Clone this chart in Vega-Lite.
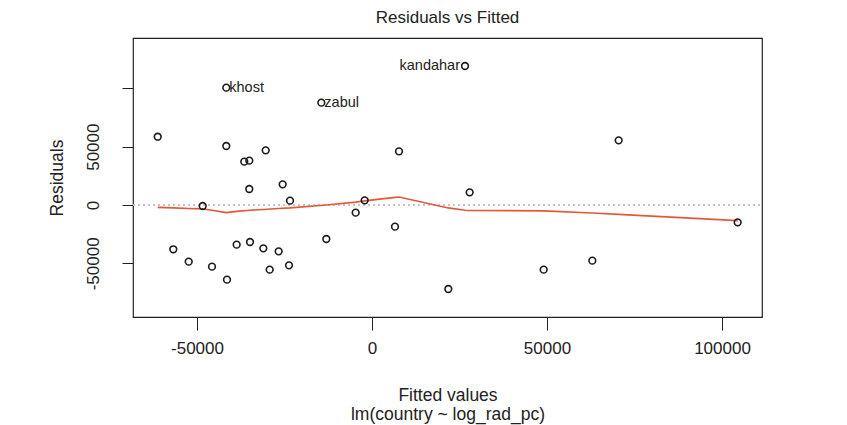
{
  "$schema": "https://vega.github.io/schema/vega-lite/v6.json",
  "width": 629,
  "height": 279,
  "autosize": {"type": "none"},
  "padding": {"left": 133, "top": 38, "right": 85, "bottom": 108},
  "background": "white",
  "title": {
    "text": "Residuals vs Fitted",
    "anchor": "middle",
    "frame": "group",
    "font": "Liberation Sans",
    "fontSize": 17,
    "fontWeight": "normal",
    "color": "#222222",
    "baseline": "alphabetic",
    "offset": -2
  },
  "config": {
    "view": {"stroke": "#222222", "strokeWidth": 1.2},
    "axis": {
      "labelFont": "Liberation Sans",
      "titleFont": "Liberation Sans",
      "labelFontSize": 17,
      "titleFontSize": 17.5,
      "labelColor": "#222222",
      "titleColor": "#222222",
      "titleFontWeight": "normal",
      "tickColor": "#222222",
      "grid": false,
      "domain": false
    }
  },
  "datasets": {
    "points": [
      {"fitted": -61229, "resid": 58543, "label": ""},
      {"fitted": -48371, "resid": -857, "label": ""},
      {"fitted": -56771, "resid": -37971, "label": ""},
      {"fitted": -52371, "resid": -48571, "label": ""},
      {"fitted": -45714, "resid": -52857, "label": ""},
      {"fitted": -41629, "resid": 50571, "label": ""},
      {"fitted": -41429, "resid": -64000, "label": ""},
      {"fitted": -41629, "resid": 100571, "label": "khost"},
      {"fitted": -36486, "resid": 37143, "label": ""},
      {"fitted": -35057, "resid": 38000, "label": ""},
      {"fitted": -35057, "resid": 13714, "label": ""},
      {"fitted": -38667, "resid": -34000, "label": ""},
      {"fitted": -34857, "resid": -31714, "label": ""},
      {"fitted": -30371, "resid": 46857, "label": ""},
      {"fitted": -31048, "resid": -37143, "label": ""},
      {"fitted": -29238, "resid": -55429, "label": ""},
      {"fitted": -26667, "resid": -39714, "label": ""},
      {"fitted": -25524, "resid": 17714, "label": ""},
      {"fitted": -23429, "resid": 3714, "label": ""},
      {"fitted": -23714, "resid": -51714, "label": ""},
      {"fitted": -13048, "resid": -29143, "label": ""},
      {"fitted": -14476, "resid": 87714, "label": "zabul"},
      {"fitted": -4667, "resid": -6571, "label": ""},
      {"fitted": -2095, "resid": 4000, "label": ""},
      {"fitted": 6571, "resid": -18571, "label": ""},
      {"fitted": 7714, "resid": 46000, "label": ""},
      {"fitted": 26571, "resid": 119143, "label": "kandahar"},
      {"fitted": 21810, "resid": -72000, "label": ""},
      {"fitted": 27905, "resid": 10857, "label": ""},
      {"fitted": 49048, "resid": -55429, "label": ""},
      {"fitted": 62952, "resid": -47714, "label": ""},
      {"fitted": 70476, "resid": 55429, "label": ""},
      {"fitted": 104476, "resid": -14857, "label": ""}
    ],
    "smooth": [
      {"fitted": -61229, "resid": -2000},
      {"fitted": -56771, "resid": -2500},
      {"fitted": -52371, "resid": -3000},
      {"fitted": -48371, "resid": -3300},
      {"fitted": -45714, "resid": -4500},
      {"fitted": -41629, "resid": -6500},
      {"fitted": -38667, "resid": -5500},
      {"fitted": -35057, "resid": -4500},
      {"fitted": -31048, "resid": -3800},
      {"fitted": -26667, "resid": -3000},
      {"fitted": -23429, "resid": -2500},
      {"fitted": -13048, "resid": 0},
      {"fitted": -4667, "resid": 2500},
      {"fitted": -2095, "resid": 3500},
      {"fitted": 6571, "resid": 6500},
      {"fitted": 7714, "resid": 6800},
      {"fitted": 21810, "resid": -2500},
      {"fitted": 26571, "resid": -4500},
      {"fitted": 27905, "resid": -4700},
      {"fitted": 49048, "resid": -5000},
      {"fitted": 62952, "resid": -6800},
      {"fitted": 70476, "resid": -8000},
      {"fitted": 104476, "resid": -13400}
    ]
  },
  "data": {"name": "points"},
  "encoding": {
    "x": {
      "field": "fitted",
      "type": "quantitative",
      "scale": {"domain": [-68286, 111429], "nice": false, "zero": false},
      "axis": {
        "values": [-50000, 0, 50000, 100000],
        "labelExpr": "toString(datum.value)",
        "tickSize": 13,
        "labelPadding": 10,
        "title": ["Fitted values", "lm(country ~ log_rad_pc)"],
        "titleLineHeight": 19,
        "titlePadding": 30
      }
    },
    "y": {
      "field": "resid",
      "type": "quantitative",
      "scale": {"domain": [-96000, 143143], "nice": false, "zero": false},
      "axis": {
        "values": [-50000, 0, 50000, 100000],
        "labelExpr": "datum.value == 100000 ? '' : toString(datum.value)",
        "labelAngle": -90,
        "labelAlign": "center",
        "labelBaseline": "bottom",
        "tickSize": 11,
        "labelPadding": 20,
        "title": "Residuals",
        "titlePadding": 18
      }
    }
  },
  "layer": [
    {
      "mark": {"type": "rule", "strokeDash": [2, 3], "color": "#c4c4c4", "strokeWidth": 1},
      "encoding": {"y": {"datum": 0}, "x": {"value": 0}, "x2": {"value": 629}}
    },
    {
      "data": {"name": "smooth"},
      "mark": {"type": "line", "color": "#e5573b", "strokeWidth": 1.6},
      "encoding": {}
    },
    {
      "mark": {"type": "point", "shape": "circle", "filled": false, "size": 45, "strokeWidth": 1.6, "color": "#1a1a1a", "opacity": 1}
    },
    {
      "transform": [{"filter": "datum.label == 'khost' || datum.label == 'zabul'"}],
      "mark": {"type": "text", "align": "left", "baseline": "middle", "dx": 3, "font": "Liberation Sans", "fontSize": 14.5, "color": "#222222"},
      "encoding": {"text": {"field": "label"}}
    },
    {
      "transform": [{"filter": "datum.label == 'kandahar'"}],
      "mark": {"type": "text", "align": "right", "baseline": "middle", "dx": -5, "font": "Liberation Sans", "fontSize": 14.5, "color": "#222222"},
      "encoding": {"text": {"field": "label"}}
    }
  ]
}
